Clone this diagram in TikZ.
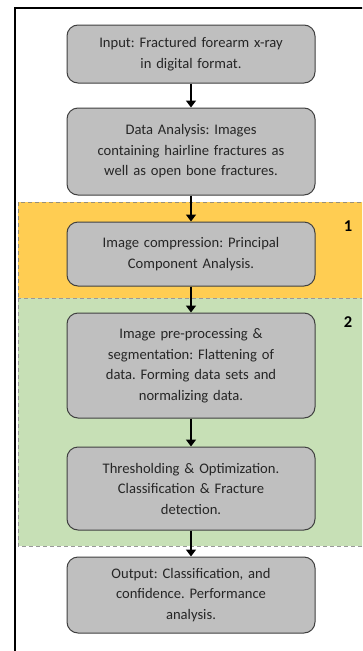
\documentclass[tikz,border=0pt]{standalone}
\usepackage{fontspec}
\setmainfont{Carlito}
\usetikzlibrary{arrows.meta}
\definecolor{boxgray}{RGB}{191,191,191}
\definecolor{boxedge}{RGB}{64,64,64}
\definecolor{stageorange}{RGB}{255,205,82}
\definecolor{stagegreen}{RGB}{199,224,182}
\definecolor{textdark}{RGB}{38,38,38}
\frenchspacing

\tikzset{
  stepbox/.style={draw=boxedge, line width=1pt, fill=boxgray, rounded corners=11pt,
    minimum width=248pt, text width=235pt, align=center, text=textdark,
    font=\fontsize{14.6}{20.5}\selectfont, inner sep=0pt},
  flowarrow/.style={line width=1.6pt, -{Triangle[width=10pt,length=7pt]}},
  stagearea/.style={dashed, line width=0.6pt, dash pattern=on 4pt off 3pt},
  stagenum/.style={font=\fontsize{16.5}{18}\selectfont\bfseries, text=black}
}

\begin{document}
\begin{tikzpicture}[x=1pt, y=-1pt]
        \clip (0,0) rectangle (362,651);
        \fill[white] (0,0) rectangle (362,651);
        % stage areas
        \draw[stagearea, fill=stageorange, draw=gray!80!stageorange] (18,202) rectangle (370,298);
        \draw[stagearea, fill=stagegreen, draw=gray!80] (18,298) rectangle (370,546);
        \node[stagenum] (one) at (348,226) {1};
        \node[stagenum] (two) at (348,322) {2};
        % outer frame
        \draw[line width=2.4pt] (15,660) -- (15,8) -- (370,8);
        % flow steps
        \node[stepbox, minimum height=58pt] (input) at (191,54) {
            Input: Fractured forearm x-ray\\
            in digital format.
        };
        \node[stepbox, minimum height=87pt] (analysis) at (191,151.5) {
            Data Analysis: Images\\
            containing hairline fractures as\\
            well as open bone fractures.
        };
        \node[stepbox, minimum height=64pt] (compress) at (191,254) {
            Image compression: Principal\\
            Component Analysis.
        };
        \node[stepbox, minimum height=105pt] (preproc) at (191,365.5) {
            Image pre-processing \&\\
            segmentation: Flattening of\\
            data. Forming data sets and\\
            normalizing data.
        };
        \node[stepbox, minimum height=83pt] (thresh) at (191,488.5) {
            Thresholding \& Optimization.\\
            Classification \& Fracture\\
            detection.
        };
        \node[stepbox, minimum height=76pt] (output) at (191,595) {
            Output: Classification, and\\
            confidence. Performance\\
            analysis.
        };
        % connectors
        \draw[flowarrow] (input) -- (analysis);
        \draw[flowarrow] (analysis) -- (compress);
        \draw[flowarrow] (compress) -- (preproc);
        \draw[flowarrow] (preproc) -- (thresh);
        \draw[flowarrow] (thresh) -- (output);
    \end{tikzpicture}
\end{document}
